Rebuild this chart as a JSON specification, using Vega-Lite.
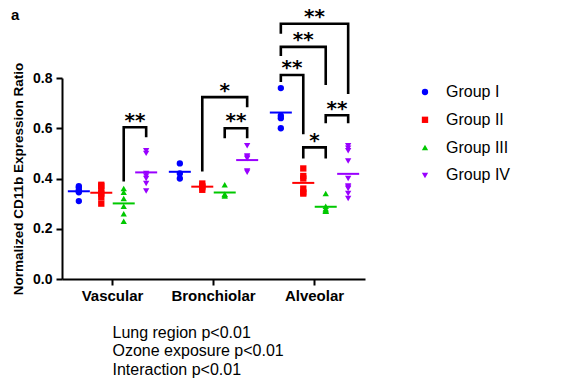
{
  "$schema": "https://vega.github.io/schema/vega-lite/v6.json",
  "width": 303,
  "height": 201,
  "autosize": {"type": "none"},
  "padding": {"left": 62, "top": 78, "right": 203, "bottom": 106},
  "background": "white",
  "title": {"text": "a", "anchor": "start", "frame": "group", "fontSize": 15, "fontWeight": "bold", "font": "Liberation Sans", "color": "black", "dx": -51, "dy": 20},
  "config": {
    "view": {"stroke": null},
    "font": "Liberation Sans"
  },
  "datasets": {
    "points": [
      {"Region": "Vascular", "Group": "Group I", "value": 0.37},
      {"Region": "Vascular", "Group": "Group I", "value": 0.365},
      {"Region": "Vascular", "Group": "Group I", "value": 0.355},
      {"Region": "Vascular", "Group": "Group I", "value": 0.35},
      {"Region": "Vascular", "Group": "Group I", "value": 0.345},
      {"Region": "Vascular", "Group": "Group I", "value": 0.31},
      {"Region": "Vascular", "Group": "Group II", "value": 0.375},
      {"Region": "Vascular", "Group": "Group II", "value": 0.37},
      {"Region": "Vascular", "Group": "Group II", "value": 0.35},
      {"Region": "Vascular", "Group": "Group II", "value": 0.34},
      {"Region": "Vascular", "Group": "Group II", "value": 0.325},
      {"Region": "Vascular", "Group": "Group II", "value": 0.3},
      {"Region": "Vascular", "Group": "Group III", "value": 0.36},
      {"Region": "Vascular", "Group": "Group III", "value": 0.345},
      {"Region": "Vascular", "Group": "Group III", "value": 0.32},
      {"Region": "Vascular", "Group": "Group III", "value": 0.29},
      {"Region": "Vascular", "Group": "Group III", "value": 0.26},
      {"Region": "Vascular", "Group": "Group III", "value": 0.23},
      {"Region": "Vascular", "Group": "Group IV", "value": 0.51},
      {"Region": "Vascular", "Group": "Group IV", "value": 0.5},
      {"Region": "Vascular", "Group": "Group IV", "value": 0.42},
      {"Region": "Vascular", "Group": "Group IV", "value": 0.41},
      {"Region": "Vascular", "Group": "Group IV", "value": 0.4},
      {"Region": "Vascular", "Group": "Group IV", "value": 0.38},
      {"Region": "Vascular", "Group": "Group IV", "value": 0.35},
      {"Region": "Bronchiolar", "Group": "Group I", "value": 0.46},
      {"Region": "Bronchiolar", "Group": "Group I", "value": 0.42},
      {"Region": "Bronchiolar", "Group": "Group I", "value": 0.4},
      {"Region": "Bronchiolar", "Group": "Group II", "value": 0.38},
      {"Region": "Bronchiolar", "Group": "Group II", "value": 0.37},
      {"Region": "Bronchiolar", "Group": "Group II", "value": 0.365},
      {"Region": "Bronchiolar", "Group": "Group II", "value": 0.355},
      {"Region": "Bronchiolar", "Group": "Group III", "value": 0.375},
      {"Region": "Bronchiolar", "Group": "Group III", "value": 0.337},
      {"Region": "Bronchiolar", "Group": "Group III", "value": 0.335},
      {"Region": "Bronchiolar", "Group": "Group III", "value": 0.33},
      {"Region": "Bronchiolar", "Group": "Group IV", "value": 0.53},
      {"Region": "Bronchiolar", "Group": "Group IV", "value": 0.49},
      {"Region": "Bronchiolar", "Group": "Group IV", "value": 0.485},
      {"Region": "Bronchiolar", "Group": "Group IV", "value": 0.48},
      {"Region": "Bronchiolar", "Group": "Group IV", "value": 0.43},
      {"Region": "Bronchiolar", "Group": "Group IV", "value": 0.425},
      {"Region": "Alveolar", "Group": "Group I", "value": 0.76},
      {"Region": "Alveolar", "Group": "Group I", "value": 0.65},
      {"Region": "Alveolar", "Group": "Group I", "value": 0.64},
      {"Region": "Alveolar", "Group": "Group I", "value": 0.6},
      {"Region": "Alveolar", "Group": "Group II", "value": 0.44},
      {"Region": "Alveolar", "Group": "Group II", "value": 0.41},
      {"Region": "Alveolar", "Group": "Group II", "value": 0.4},
      {"Region": "Alveolar", "Group": "Group II", "value": 0.36},
      {"Region": "Alveolar", "Group": "Group II", "value": 0.345},
      {"Region": "Alveolar", "Group": "Group II", "value": 0.34},
      {"Region": "Alveolar", "Group": "Group III", "value": 0.34},
      {"Region": "Alveolar", "Group": "Group III", "value": 0.29},
      {"Region": "Alveolar", "Group": "Group III", "value": 0.28},
      {"Region": "Alveolar", "Group": "Group III", "value": 0.275},
      {"Region": "Alveolar", "Group": "Group III", "value": 0.27},
      {"Region": "Alveolar", "Group": "Group III", "value": 0.27},
      {"Region": "Alveolar", "Group": "Group IV", "value": 0.53},
      {"Region": "Alveolar", "Group": "Group IV", "value": 0.52},
      {"Region": "Alveolar", "Group": "Group IV", "value": 0.51},
      {"Region": "Alveolar", "Group": "Group IV", "value": 0.47},
      {"Region": "Alveolar", "Group": "Group IV", "value": 0.4},
      {"Region": "Alveolar", "Group": "Group IV", "value": 0.37},
      {"Region": "Alveolar", "Group": "Group IV", "value": 0.365},
      {"Region": "Alveolar", "Group": "Group IV", "value": 0.36},
      {"Region": "Alveolar", "Group": "Group IV", "value": 0.34},
      {"Region": "Alveolar", "Group": "Group IV", "value": 0.32}
    ],
    "brackets": [
      {"id": "V34", "Region": "Vascular", "leg": "Group III", "y": 0.388, "step": 1},
      {"id": "V34", "Region": "Vascular", "leg": "Group III", "y": 0.604, "step": 2},
      {"id": "V34", "Region": "Vascular", "leg": "Group IV", "y": 0.604, "step": 3},
      {"id": "V34", "Region": "Vascular", "leg": "Group IV", "y": 0.564, "step": 4},
      {"id": "B24", "Region": "Bronchiolar", "leg": "Group II", "y": 0.428, "step": 1},
      {"id": "B24", "Region": "Bronchiolar", "leg": "Group II", "y": 0.724, "step": 2},
      {"id": "B24", "Region": "Bronchiolar", "leg": "Group IV", "y": 0.724, "step": 3},
      {"id": "B24", "Region": "Bronchiolar", "leg": "Group IV", "y": 0.684, "step": 4},
      {"id": "B34", "Region": "Bronchiolar", "leg": "Group III", "y": 0.56, "step": 1},
      {"id": "B34", "Region": "Bronchiolar", "leg": "Group III", "y": 0.6, "step": 2},
      {"id": "B34", "Region": "Bronchiolar", "leg": "Group IV", "y": 0.6, "step": 3},
      {"id": "B34", "Region": "Bronchiolar", "leg": "Group IV", "y": 0.56, "step": 4},
      {"id": "A14", "Region": "Alveolar", "leg": "Group I", "y": 0.976, "step": 1},
      {"id": "A14", "Region": "Alveolar", "leg": "Group I", "y": 1.016, "step": 2},
      {"id": "A14", "Region": "Alveolar", "leg": "Group IV", "y": 1.016, "step": 3},
      {"id": "A14", "Region": "Alveolar", "leg": "Group IV", "y": 0.736, "step": 4},
      {"id": "A13", "Region": "Alveolar", "leg": "Group I", "y": 0.888, "step": 1},
      {"id": "A13", "Region": "Alveolar", "leg": "Group I", "y": 0.924, "step": 2},
      {"id": "A13", "Region": "Alveolar", "leg": "Group III", "y": 0.924, "step": 3},
      {"id": "A13", "Region": "Alveolar", "leg": "Group III", "y": 0.772, "step": 4},
      {"id": "A12", "Region": "Alveolar", "leg": "Group I", "y": 0.784, "step": 1},
      {"id": "A12", "Region": "Alveolar", "leg": "Group I", "y": 0.812, "step": 2},
      {"id": "A12", "Region": "Alveolar", "leg": "Group II", "y": 0.812, "step": 3},
      {"id": "A12", "Region": "Alveolar", "leg": "Group II", "y": 0.576, "step": 4},
      {"id": "A34", "Region": "Alveolar", "leg": "Group III", "y": 0.62, "step": 1},
      {"id": "A34", "Region": "Alveolar", "leg": "Group III", "y": 0.652, "step": 2},
      {"id": "A34", "Region": "Alveolar", "leg": "Group IV", "y": 0.652, "step": 3},
      {"id": "A34", "Region": "Alveolar", "leg": "Group IV", "y": 0.62, "step": 4},
      {"id": "A23", "Region": "Alveolar", "leg": "Group II", "y": 0.48, "step": 1},
      {"id": "A23", "Region": "Alveolar", "leg": "Group II", "y": 0.524, "step": 2},
      {"id": "A23", "Region": "Alveolar", "leg": "Group III", "y": 0.524, "step": 3},
      {"id": "A23", "Region": "Alveolar", "leg": "Group III", "y": 0.48, "step": 4}
    ],
    "stars": [
      {"Region": "Vascular", "slot": "III–IV", "label": "**", "y": 0.63},
      {"Region": "Bronchiolar", "slot": "Group III", "label": "*", "y": 0.75},
      {"Region": "Bronchiolar", "slot": "III–IV", "label": "**", "y": 0.63},
      {"Region": "Alveolar", "slot": "II–III", "label": "**", "y": 1.042},
      {"Region": "Alveolar", "slot": "Group II", "label": "**", "y": 0.95},
      {"Region": "Alveolar", "slot": "I–II", "label": "**", "y": 0.838},
      {"Region": "Alveolar", "slot": "III–IV", "label": "**", "y": 0.678},
      {"Region": "Alveolar", "slot": "II–III", "label": "*", "y": 0.55}
    ]
  },
  "encoding": {
    "x": {
      "field": "Region", "type": "nominal",
      "scale": {"domain": ["Vascular", "Bronchiolar", "Alveolar"], "paddingInner": 0, "paddingOuter": 0},
      "axis": {
        "labelAngle": 0, "labelFont": "Liberation Sans", "labelFontSize": 15, "labelFontWeight": "bold", "labelColor": "black",
        "labelPadding": 3, "tickSize": 6, "tickWidth": 2, "tickColor": "black", "domainColor": "black", "domainWidth": 2,
        "title": ["Lung region p<0.01", "Ozone exposure p<0.01", "Interaction p<0.01"],
        "titleFont": "Liberation Sans", "titleFontSize": 16, "titleFontWeight": "normal", "titleColor": "black",
        "titleAlign": "left", "titleAnchor": "start", "titleBaseline": "top", "titleX": 50, "titleY": 45, "titleLineHeight": 18.7
      }
    },
    "xOffset": {
      "scale": {"domain": ["Group I", "I–II", "Group II", "II–III", "Group III", "III–IV", "Group IV"], "paddingInner": 0, "paddingOuter": 1.09}
    }
  },
  "layer": [
    {
      "data": {"name": "brackets"},
      "mark": {"type": "line", "color": "black", "strokeWidth": 2.6, "strokeJoin": "miter", "strokeCap": "butt", "clip": false},
      "encoding": {
        "xOffset": {"field": "leg", "type": "nominal"},
        "y": {"field": "y", "type": "quantitative"},
        "detail": {"field": "id"},
        "order": {"field": "step", "type": "quantitative"}
      }
    },
    {
      "data": {"name": "stars"},
      "mark": {"type": "text", "font": "DejaVu Sans", "fontSize": 20, "fontWeight": "bold", "color": "black", "baseline": "middle", "clip": false},
      "encoding": {
        "xOffset": {"field": "slot", "type": "nominal"},
        "y": {"field": "y", "type": "quantitative"},
        "text": {"field": "label"}
      }
    },
    {
      "data": {"name": "points"},
      "mark": {"type": "tick", "thickness": 2, "size": 22},
      "encoding": {
        "xOffset": {"field": "Group", "type": "nominal"},
        "y": {"field": "value", "type": "quantitative", "aggregate": "mean"},
        "color": {"field": "Group", "type": "nominal"}
      }
    },
    {
      "data": {"name": "points"},
      "mark": {"type": "point", "filled": true, "opacity": 1, "size": 40},
      "encoding": {
        "xOffset": {"field": "Group", "type": "nominal"},
        "y": {
          "field": "value", "type": "quantitative",
          "scale": {"domain": [0, 0.8], "nice": false, "zero": true},
          "axis": {
            "values": [0, 0.2, 0.4, 0.6, 0.8], "format": ".1f", "grid": false,
            "labelFont": "Liberation Sans", "labelFontSize": 14, "labelFontWeight": "bold", "labelColor": "black", "labelPadding": 4,
            "tickSize": 6, "tickWidth": 2, "tickColor": "black", "domainColor": "black", "domainWidth": 2,
            "title": "Normalized CD11b Expression Ratio", "titleFont": "Liberation Sans", "titleFontSize": 13.5, "titleFontWeight": "bold", "titleColor": "black", "titlePadding": 7
          }
        },
        "color": {
          "field": "Group", "type": "nominal",
          "scale": {"domain": ["Group I", "Group II", "Group III", "Group IV"], "range": ["#0000ff", "#ff0000", "#00c800", "#9900ff"]},
          "legend": {
            "title": null, "orient": "none", "legendX": 355, "legendY": 6,
            "labelFont": "Liberation Sans", "labelFontSize": 16, "labelColor": "black", "labelOffset": 13,
            "symbolSize": 40, "rowPadding": 11.8, "symbolStrokeWidth": 0
          }
        },
        "shape": {
          "field": "Group", "type": "nominal",
          "scale": {"domain": ["Group I", "Group II", "Group III", "Group IV"], "range": ["circle", "square", "triangle-up", "triangle-down"]},
          "legend": {
            "title": null, "orient": "none", "legendX": 355, "legendY": 6,
            "labelFont": "Liberation Sans", "labelFontSize": 16, "labelColor": "black", "labelOffset": 13,
            "symbolSize": 40, "rowPadding": 11.8, "symbolStrokeWidth": 0
          }
        }
      }
    }
  ]
}
